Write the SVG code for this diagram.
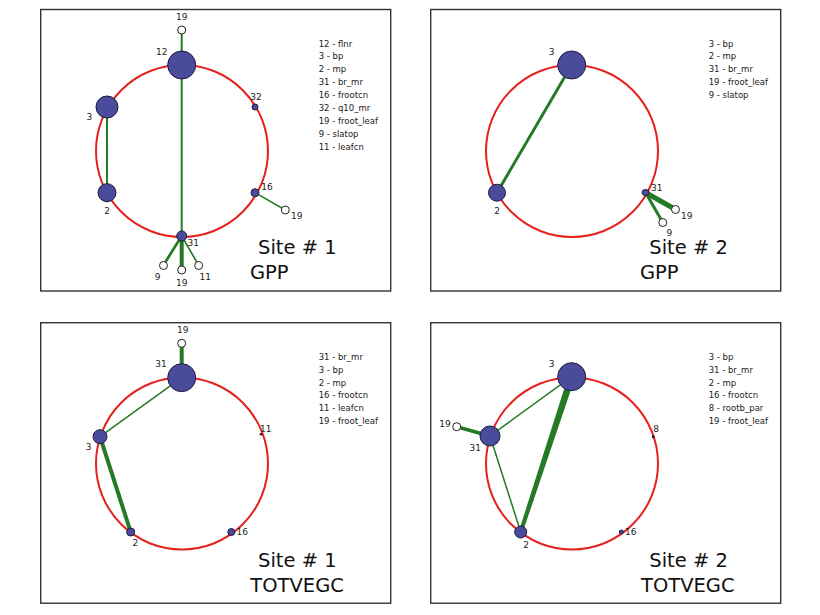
<svg xmlns="http://www.w3.org/2000/svg" width="820" height="615" viewBox="0 0 820 615">
<style>
.frame{fill:#fff;stroke:#333;stroke-width:1.4}
.ring{fill:none;stroke:#e4211c;stroke-width:2}
.e{stroke:#257a25;stroke-linecap:butt;fill:none}
.n{fill:#4b4b9c;stroke:#1c1c40;stroke-width:1}
.o{fill:#fff;stroke:#222;stroke-width:1}
.d{fill:#222}
.lbl{font-family:"DejaVu Sans",sans-serif;font-size:9px;fill:#222;text-anchor:middle}
.leg{font-family:"DejaVu Sans",sans-serif;font-size:8.5px;fill:#222}
.ttl{font-family:"DejaVu Sans",sans-serif;font-size:19.5px;fill:#111}
</style>
<rect width="820" height="615" fill="#fff"/>
<g id="frames">
<rect class="frame" x="40.7" y="9.5" width="350" height="281.5"/>
<rect class="frame" x="430.7" y="9.5" width="350" height="281.5"/>
<rect class="frame" x="40.7" y="322.7" width="350" height="280.5"/>
<rect class="frame" x="430.7" y="322.7" width="350" height="280.5"/>
</g>
<g id="rings">
<circle class="ring" cx="182" cy="151" r="86"/>
<circle class="ring" cx="572" cy="151" r="86"/>
<circle class="ring" cx="182" cy="463.5" r="86"/>
<circle class="ring" cx="572" cy="463.5" r="86"/>
</g>
<g id="connectors">
<line class="e" x1="181.7" y1="30" x2="181.7" y2="65" stroke-width="2"/>
<line class="e" x1="181.7" y1="65" x2="181.7" y2="236" stroke-width="2"/>
<line class="e" x1="107" y1="107" x2="107" y2="192.7" stroke-width="2"/>
<line class="e" x1="255" y1="192.7" x2="285.3" y2="210" stroke-width="1.5"/>
<line class="e" x1="181.7" y1="236" x2="163.5" y2="265" stroke-width="2.7"/>
<line class="e" x1="181.7" y1="236" x2="181.7" y2="270" stroke-width="4"/>
<line class="e" x1="181.7" y1="236" x2="198.5" y2="265" stroke-width="1.6"/>
<line class="e" x1="571.7" y1="65" x2="497" y2="192.7" stroke-width="3"/>
<line class="e" x1="645.5" y1="192.5" x2="675.5" y2="209.5" stroke-width="5"/>
<line class="e" x1="645.5" y1="192.5" x2="662.8" y2="222.5" stroke-width="3"/>
<line class="e" x1="181.7" y1="343.3" x2="181.7" y2="377.7" stroke-width="4"/>
<line class="e" x1="181.7" y1="377.7" x2="100" y2="436.7" stroke-width="1.5"/>
<line class="e" x1="100" y1="436.7" x2="130.7" y2="532" stroke-width="4"/>
<polygon fill="#257a25" points="575,377.8 522.6,532.6 518.8,531.4 568.4,375.6"/>
<line class="e" x1="571.7" y1="376.7" x2="490" y2="436" stroke-width="1.5"/>
<line class="e" x1="490" y1="436" x2="520.7" y2="532" stroke-width="1.5"/>
<line class="e" x1="456.7" y1="426.7" x2="490" y2="436" stroke-width="3.5"/>
</g>
<g id="p1-n12"><circle class="n" cx="181.7" cy="65" r="14"/><text class="lbl" x="161.7" y="55">12</text></g>
<g id="p1-n3"><circle class="n" cx="107" cy="107" r="11"/><text class="lbl" x="89.3" y="120">3</text></g>
<g id="p1-n2"><circle class="n" cx="107" cy="192.7" r="9"/><text class="lbl" x="107" y="214">2</text></g>
<g id="p1-n32"><circle class="n" cx="255" cy="107" r="3"/><text class="lbl" x="256" y="100">32</text></g>
<g id="p1-n16"><circle class="n" cx="255" cy="192.7" r="4"/><text class="lbl" x="267" y="190">16</text></g>
<g id="p1-n31"><circle class="n" cx="181.7" cy="236" r="5"/><text class="lbl" x="193.3" y="246">31</text></g>
<g id="p1-n19a"><circle class="o" cx="181.7" cy="30" r="4"/><text class="lbl" x="181.7" y="20">19</text></g>
<g id="p1-n19b"><circle class="o" cx="285.3" cy="210" r="4"/><text class="lbl" x="296.7" y="219">19</text></g>
<g id="p1-n9"><circle class="o" cx="163.5" cy="265.5" r="4"/><text class="lbl" x="157.7" y="280">9</text></g>
<g id="p1-n19c"><circle class="o" cx="181.7" cy="270" r="4"/><text class="lbl" x="181.7" y="286">19</text></g>
<g id="p1-n11"><circle class="o" cx="198.7" cy="265.5" r="4"/><text class="lbl" x="205.3" y="280">11</text></g>
<g id="p1-legend" class="leg">
<text x="318.7" y="46.5">12 - flnr</text>
<text x="318.7" y="59.4">3 - bp</text>
<text x="318.7" y="72.3">2 - mp</text>
<text x="318.7" y="85.2">31 - br_mr</text>
<text x="318.7" y="98.1">16 - frootcn</text>
<text x="318.7" y="111">32 - q10_mr</text>
<text x="318.7" y="123.9">19 - froot_leaf</text>
<text x="318.7" y="136.8">9 - slatop</text>
<text x="318.7" y="149.7">11 - leafcn</text>
</g>
<g id="p1-title"><text class="ttl" x="258" y="254">Site # 1</text><text class="ttl" x="250" y="278.5" font-size="20">GPP</text></g>

<g id="p2-n3"><circle class="n" cx="571.7" cy="65" r="14"/><text class="lbl" x="551.7" y="55">3</text></g>
<g id="p2-n2"><circle class="n" cx="497" cy="192.7" r="8.5"/><text class="lbl" x="497" y="214">2</text></g>
<g id="p2-n31"><ellipse class="n" cx="645.5" cy="192.5" rx="3.5" ry="3"/><text class="lbl" x="656.7" y="191">31</text></g>
<g id="p2-n19"><circle class="o" cx="675.5" cy="209.5" r="4"/><text class="lbl" x="686.7" y="219">19</text></g>
<g id="p2-n9"><circle class="o" cx="662.8" cy="222.5" r="4"/><text class="lbl" x="669.3" y="235.5">9</text></g>
<g id="p2-legend" class="leg">
<text x="708.7" y="46.5">3 - bp</text>
<text x="708.7" y="59.4">2 - mp</text>
<text x="708.7" y="72.3">31 - br_mr</text>
<text x="708.7" y="85.2">19 - froot_leaf</text>
<text x="708.7" y="98.1">9 - slatop</text>
</g>
<g id="p2-title"><text class="ttl" x="649.3" y="254">Site # 2</text><text class="ttl" x="640" y="278.5" font-size="20">GPP</text></g>

<g id="p3-n31"><circle class="n" cx="181.7" cy="377.7" r="14"/><text class="lbl" x="161" y="366.5">31</text></g>
<g id="p3-n3"><circle class="n" cx="100" cy="436.7" r="7"/><text class="lbl" x="88.7" y="450">3</text></g>
<g id="p3-n2"><circle class="n" cx="130.7" cy="532" r="4"/><text class="lbl" x="135.3" y="546">2</text></g>
<g id="p3-n16"><circle class="n" cx="231.3" cy="532" r="3.5"/><text class="lbl" x="242.3" y="534.5">16</text></g>
<g id="p3-n11"><circle class="d" cx="261" cy="434.3" r="1.3"/><text class="lbl" x="265.7" y="432">11</text></g>
<g id="p3-n19"><circle class="o" cx="181.7" cy="343.3" r="4"/><text class="lbl" x="182.7" y="333">19</text></g>
<g id="p3-legend" class="leg">
<text x="318.7" y="359.7">31 - br_mr</text>
<text x="318.7" y="372.6">3 - bp</text>
<text x="318.7" y="385.5">2 - mp</text>
<text x="318.7" y="398.4">16 - frootcn</text>
<text x="318.7" y="411.3">11 - leafcn</text>
<text x="318.7" y="424.2">19 - froot_leaf</text>
</g>
<g id="p3-title"><text class="ttl" x="258" y="566.7">Site # 1</text><text class="ttl" x="250.3" y="591.7" font-size="20">TOTVEGC</text></g>

<g id="p4-n3"><circle class="n" cx="571.7" cy="376.7" r="14"/><text class="lbl" x="551.7" y="366.5">3</text></g>
<g id="p4-n31"><circle class="n" cx="490" cy="436" r="10"/><text class="lbl" x="475.3" y="450.5">31</text></g>
<g id="p4-n2"><circle class="n" cx="520.7" cy="532" r="6"/><text class="lbl" x="526" y="547.5">2</text></g>
<g id="p4-n16"><circle class="n" cx="621.3" cy="532" r="2"/><text class="lbl" x="630.7" y="534.5">16</text></g>
<g id="p4-n8"><circle class="d" cx="653.3" cy="436.7" r="1.5"/><text class="lbl" x="656" y="431.5">8</text></g>
<g id="p4-n19"><circle class="o" cx="456.7" cy="426.7" r="4"/><text class="lbl" x="445" y="426.5">19</text></g>
<g id="p4-legend" class="leg">
<text x="708.7" y="359.7">3 - bp</text>
<text x="708.7" y="372.6">31 - br_mr</text>
<text x="708.7" y="385.5">2 - mp</text>
<text x="708.7" y="398.4">16 - frootcn</text>
<text x="708.7" y="411.3">8 - rootb_par</text>
<text x="708.7" y="424.2">19 - froot_leaf</text>
</g>
<g id="p4-title"><text class="ttl" x="649.3" y="566.7">Site # 2</text><text class="ttl" x="641" y="591.7" font-size="20">TOTVEGC</text></g>
</svg>
